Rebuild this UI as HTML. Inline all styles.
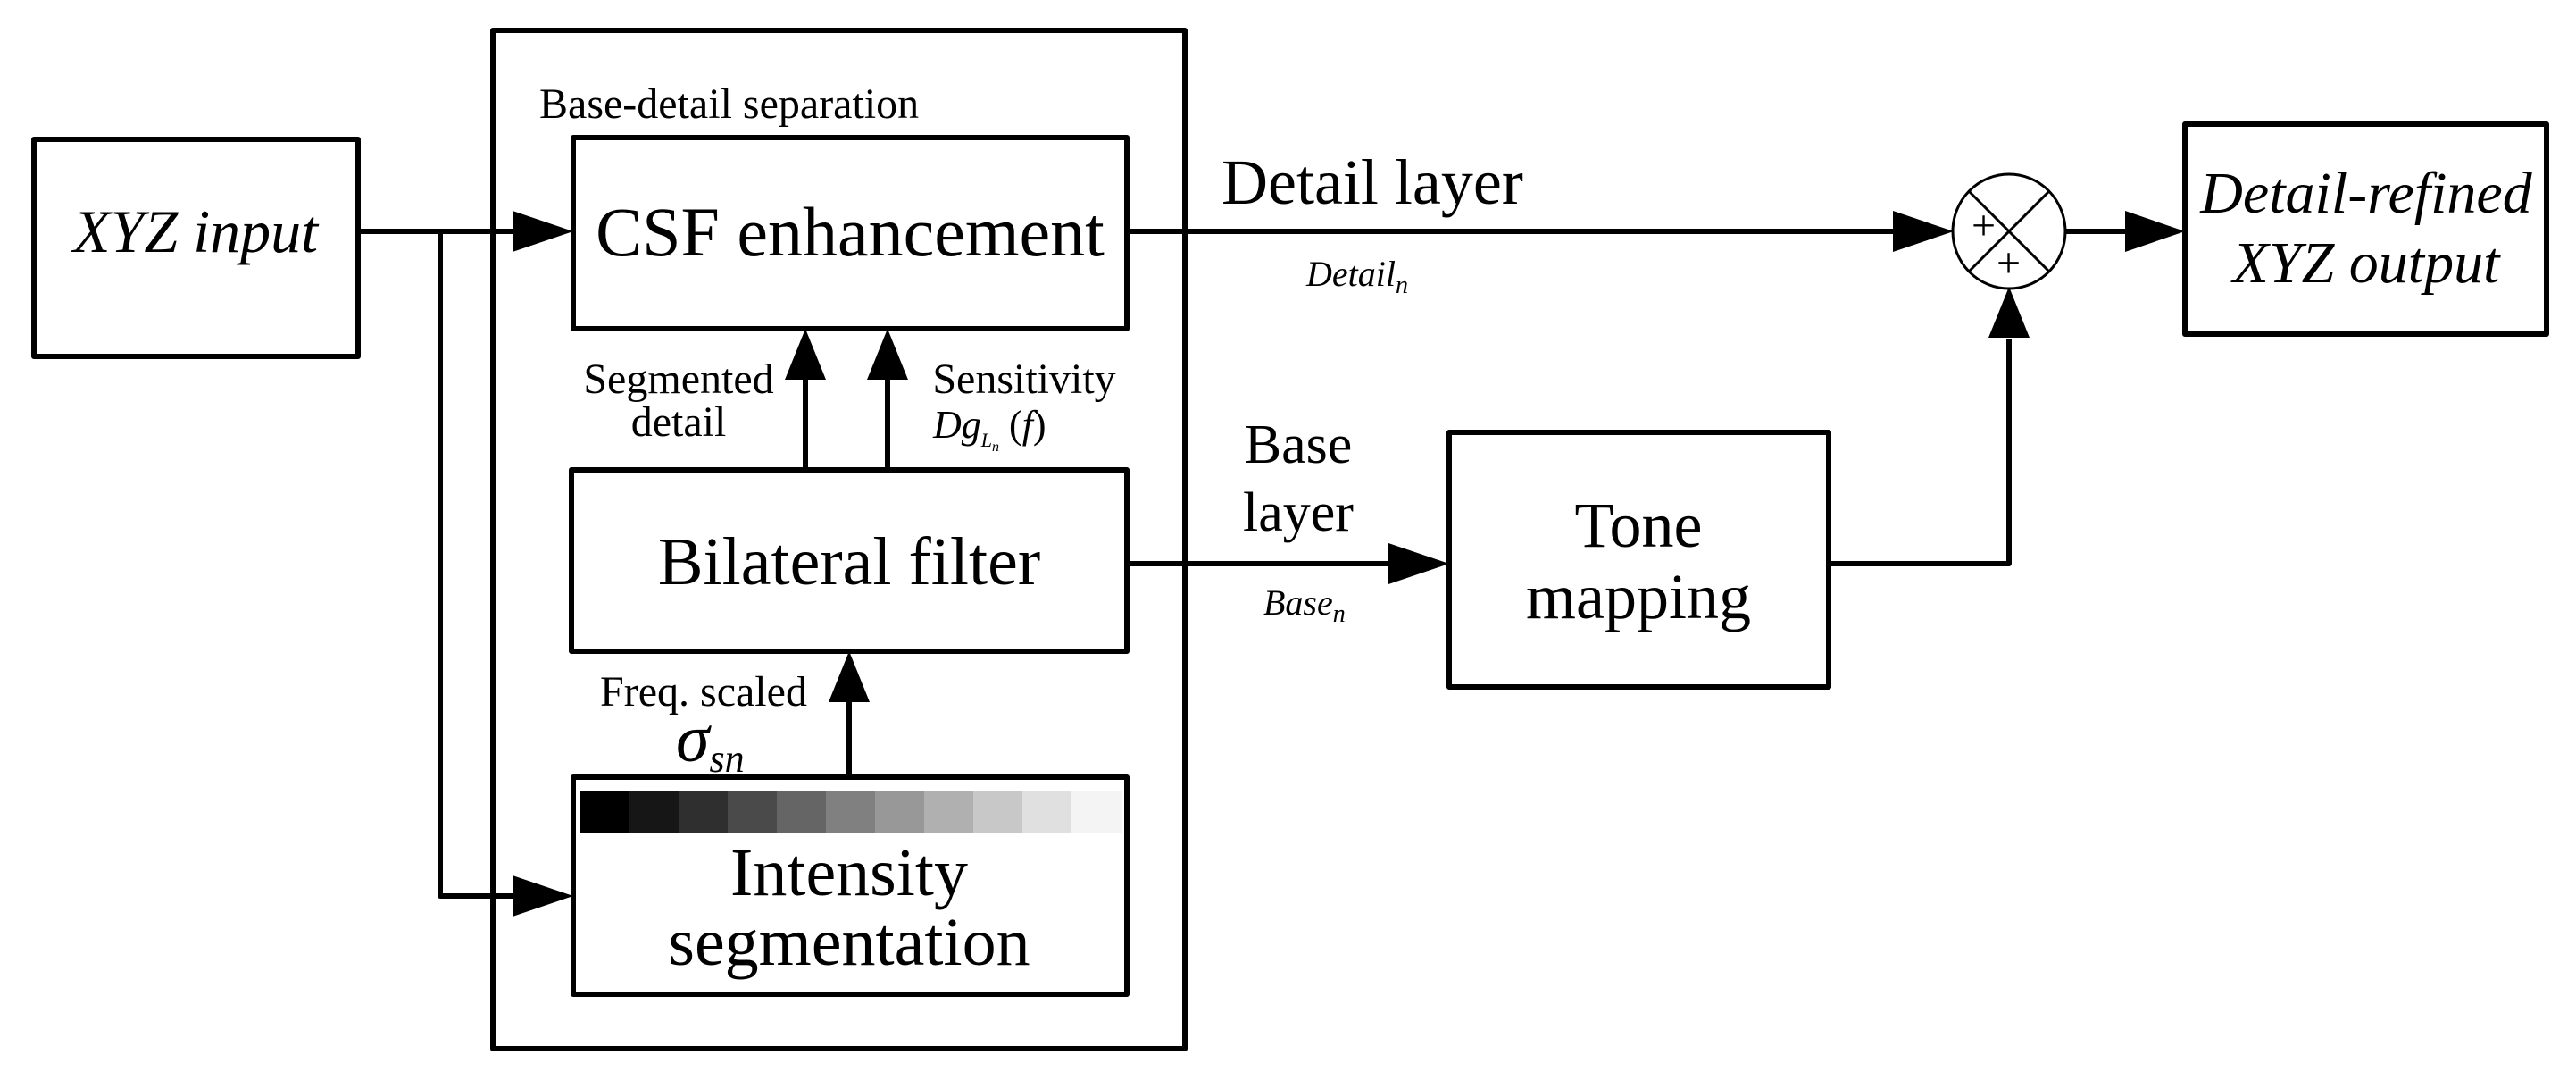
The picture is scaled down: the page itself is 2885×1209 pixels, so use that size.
<!DOCTYPE html>
<html><head><meta charset="utf-8"><style>html,body{margin:0;padding:0;background:#fff;}svg{display:block}</style></head>
<body>
<svg width="2885" height="1209" viewBox="0 0 2885 1209" xmlns="http://www.w3.org/2000/svg" font-family="'Liberation Serif', serif">
<rect width="2885" height="1209" fill="#fff"/>
<g fill="none" stroke="#000" stroke-width="6" stroke-linejoin="round">
<rect x="552" y="34" width="775" height="1140"/>
<rect x="38" y="156" width="363" height="243"/>
<rect x="642" y="154" width="620" height="214"/>
<rect x="640" y="526" width="622" height="203"/>
<rect x="642" y="870" width="620" height="243"/>
<rect x="1623" y="484" width="425" height="285"/>
<rect x="2447" y="139" width="405" height="235"/>
<ellipse cx="2250" cy="259" rx="63" ry="64" stroke-width="3"/>
<line x1="2205" y1="214" x2="2295" y2="304" stroke-width="3"/>
<line x1="2295" y1="214" x2="2205" y2="304" stroke-width="3"/>
<polyline points="401,259 580,259"/>
<polyline points="493,259 493,1003 580,1003"/>
<line x1="902" y1="526" x2="902" y2="420"/>
<line x1="994" y1="526" x2="994" y2="420"/>
<line x1="951" y1="870" x2="951" y2="780"/>
<line x1="1262" y1="259" x2="2130" y2="259"/>
<line x1="1262" y1="631" x2="1560" y2="631"/>
<polyline points="2048,631 2250,631 2250,380"/>
<line x1="2312" y1="259" x2="2380" y2="259"/>
</g>
<g fill="#000">
<polygon points="574,236 642,259 574,282"/>
<polygon points="574,980 642,1003 574,1026"/>
<polygon points="879,425 902,368 925,425"/>
<polygon points="971,425 994,368 1017,425"/>
<polygon points="928,786 951,729 974,786"/>
<polygon points="2120,236 2188,259 2120,282"/>
<polygon points="1555,608 1623,631 1555,654"/>
<polygon points="2227,378 2250,321 2273,378"/>
<polygon points="2380,236 2447,259 2380,282"/>
</g>
<g>
<rect x="650" y="885" width="56" height="48" fill="#000"/>
<rect x="705" y="885" width="56" height="48" fill="#161616"/>
<rect x="760" y="885" width="56" height="48" fill="#2f2f2f"/>
<rect x="815" y="885" width="56" height="48" fill="#4a4a4a"/>
<rect x="870" y="885" width="56" height="48" fill="#656565"/>
<rect x="925" y="885" width="56" height="48" fill="#808080"/>
<rect x="980" y="885" width="56" height="48" fill="#989898"/>
<rect x="1035" y="885" width="56" height="48" fill="#b0b0b0"/>
<rect x="1090" y="885" width="56" height="48" fill="#c8c8c8"/>
<rect x="1145" y="885" width="56" height="48" fill="#e0e0e0"/>
<rect x="1200" y="885" width="57" height="48" fill="#f4f4f4"/>
</g>
<g fill="#000" text-anchor="middle">
<text x="219" y="282" font-size="68" font-style="italic">XYZ input</text>
<text x="952" y="286" font-size="78">CSF enhancement</text>
<text x="951" y="654" font-size="76">Bilateral filter</text>
<text x="951" y="1002" font-size="76">Intensity</text>
<text x="951" y="1080" font-size="76">segmentation</text>
<text x="1835" y="612" font-size="72">Tone</text>
<text x="1835" y="692" font-size="72">mapping</text>
<text x="2650" y="238" font-size="66" font-style="italic">Detail-refined</text>
<text x="2650" y="316" font-size="66" font-style="italic">XYZ output</text>
<text x="760" y="440" font-size="48">Segmented</text>
<text x="760" y="488" font-size="48">detail</text>
<text x="1147" y="440" font-size="48">Sensitivity</text>
<text x="788" y="790" font-size="48">Freq. scaled</text>
<text x="1454" y="518" font-size="62">Base</text>
<text x="1454" y="594" font-size="62">layer</text>
</g>
<g fill="#000">
<text x="604" y="132" font-size="48">Base-detail separation</text>
<text x="1368" y="228" font-size="72">Detail layer</text>
<text x="1463" y="320" font-size="40" font-style="italic">Detail<tspan font-size="28" dy="8">n</tspan></text>
<text x="1415" y="688" font-size="40" font-style="italic">Base<tspan font-size="28" dy="8">n</tspan></text>
<text x="1045" y="490" font-size="44" font-style="italic">Dg<tspan font-size="22" dy="10">L</tspan><tspan font-size="16" dy="5">n</tspan><tspan font-size="44" dy="-15" font-style="normal"> (</tspan><tspan font-size="44">f</tspan><tspan font-size="44" font-style="normal">)</tspan></text>
<text x="757" y="852" font-size="76" font-style="italic">σ<tspan font-size="44" dy="12">sn</tspan></text>
<text x="2208" y="268" font-size="48">+</text>
<text x="2236" y="310" font-size="48">+</text>
</g>
</svg>
</body></html>
